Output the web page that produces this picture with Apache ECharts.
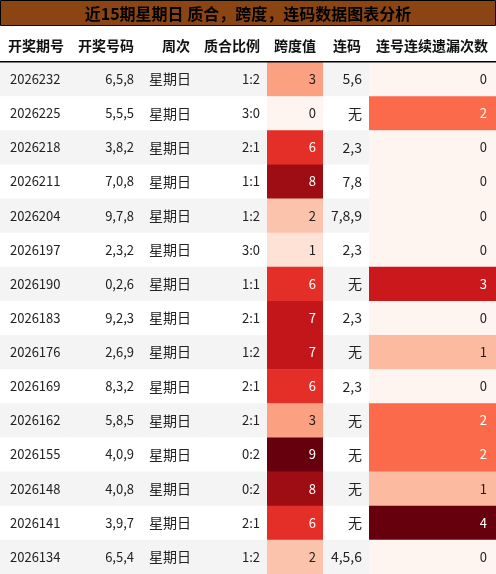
<!DOCTYPE html>
<html><head><meta charset="utf-8">
<script src="https://cdn.jsdelivr.net/npm/echarts@6/dist/echarts.min.js"></script>
<style>html,body{margin:0;padding:0;background:#fff}#c{width:496px;height:574px}</style>
</head><body><div id="c"></div>
<script>
const title = '近15期星期日 质合，跨度，连码数据图表分析';
const headers = ['开奖期号','开奖号码','周次','质合比例','跨度值','连码','连号连续遗漏次数'];
const periods = ['2026232','2026225','2026218','2026211','2026204','2026197','2026190','2026183','2026176','2026169','2026162','2026155','2026148','2026141','2026134'];
const numbers = ['6,5,8','5,5,5','3,8,2','7,0,8','9,7,8','2,3,2','0,2,6','9,2,3','2,6,9','8,3,2','5,8,5','4,0,9','4,0,8','3,9,7','6,5,4'];
const weekday = periods.map(() => '星期日');
const ratios = ['1:2','3:0','2:1','1:1','1:2','3:0','1:1','2:1','1:2','2:1','2:1','0:2','0:2','2:1','1:2'];
const spans = [3,0,6,8,2,1,6,7,7,6,3,9,8,6,2];
const consec = ['5,6','无','2,3','7,8','7,8,9','2,3','无','2,3','无','2,3','无','无','无','无','4,5,6'];
const misses = [0,2,0,0,0,0,3,0,1,0,2,2,1,4,0];

const edges = [0,70,138,200,267,323,369,496];
const aligns = [['left',10],['right',4],['left',11],['right',7],['right',7],['right',7],['right',9]];
const REDS = ['#fff5f0','#fee0d2','#fcbba1','#fc9272','#fb6a4a','#ef3b2c','#cb181d','#a50f15','#67000d'];
function hex(c){return [1,3,5].map(i=>parseInt(c.substr(i,2),16));}
function redColor(v,max){
  const t=Math.max(0,Math.min(1,v/max))*(REDS.length-1);
  const i=Math.min(Math.floor(t),REDS.length-2), f=t-i;
  const a=hex(REDS[i]), b=hex(REDS[i+1]);
  return 'rgb('+a.map((x,k)=>Math.round(x+(b[k]-x)*f)).join(',')+')';
}
const cols = [periods,numbers,weekday,ratios,spans,consec,misses];
const data=[];
periods.forEach((p,r)=>{cols.forEach((c,ci)=>data.push([ci,p,String(c[r]),r]));});

const chart=echarts.init(document.getElementById('c'));
const headerGraphics = headers.map((h,i)=>{
  const [al,pad]=aligns[i];
  let x = al==='left'? edges[i]+pad : edges[i+1]-pad;
  if(i===2){x=edges[3]-10;}
  return {type:'text',left:null,x:x,y:46,style:{text:h,align:i===0?'left':(i===2?'right':(i===1?'right':(i===6?'right':'right'))),verticalAlign:'middle',font:'bold 14px "Noto Sans CJK SC"',fill:'#111'}};
});
headerGraphics[0].x=8; headerGraphics[1].x=134; headerGraphics[3].x=260; headerGraphics[4].x=316; headerGraphics[5].x=361; headerGraphics[6].x=488;
chart.setOption({
  animation:false,
  grid:{left:0,right:0,top:62,bottom:0},
  xAxis:{type:'value',min:0,max:496,show:false},
  yAxis:{type:'category',data:periods,inverse:true,show:false},
  graphic:[
    {type:'rect',shape:{x:0.5,y:0.5,width:495,height:25},style:{fill:'#8b4513',stroke:'#000',lineWidth:1}},
    {type:'text',x:248,y:14,style:{text:title,align:'center',verticalAlign:'middle',font:'bold 16px "Noto Sans CJK SC"',fill:'#000'}},
    ...headerGraphics,
    {type:'rect',z:100,shape:{x:0,y:61,width:496,height:1.5},style:{fill:'#000'}}
  ],
  series:[{
    type:'custom',
    data:data,
    encode:{x:0,y:1},
    renderItem:function(params,api){
      const ci=api.value(0), r=api.value(3);
      const txt=data[params.dataIndex][2];
      const c=api.coord([0,periods[r]]);
      const h=api.size([0,1])[1];
      const y0=c[1]-h/2;
      const x0=edges[ci], x1=edges[ci+1];
      let fill = r%2===0?'#f4f4f4':'#ffffff';
      let tc='#222';
      if(ci===4){fill=redColor(spans[r],9); if(spans[r]>=6) tc='#fff';}
      if(ci===6){fill=redColor(misses[r],4); if(misses[r]>=2) tc='#fff';}
      const [al,pad]=aligns[ci];
      const tx = al==='left'? x0+pad : x1-pad;
      return {type:'group',children:[
        {type:'rect',shape:{x:x0,y:y0,width:x1-x0+0.5,height:h+0.5},style:{fill:fill}},
        {type:'text',x:tx,y:y0+h/2,style:{text:txt,align:al,verticalAlign:'middle',font:(ci===2||ci===5?'14px':'13px')+' "Noto Sans CJK SC"',fill:tc}}
      ]};
    }
  }]
});
</script></body></html>
